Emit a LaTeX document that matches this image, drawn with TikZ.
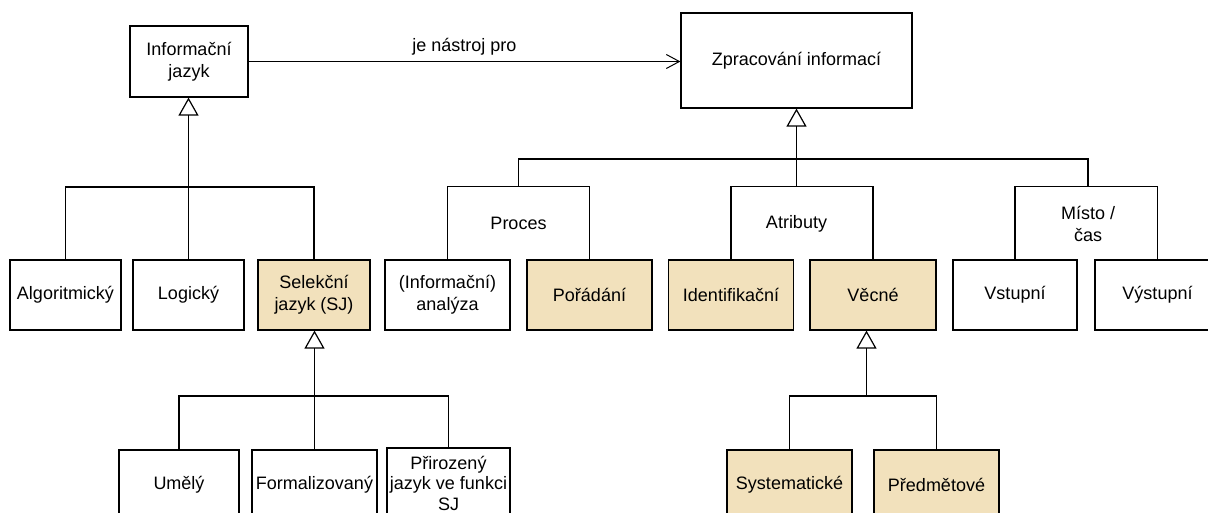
\documentclass[tikz,border=0pt]{standalone}
\usepackage{fontspec}
\setmainfont{Liberation Sans}
\usepackage{xcolor}
\usetikzlibrary{arrows.meta, positioning}
\definecolor{beige}{HTML}{F2E1BC}
\tikzstyle{assoc} = [line width=1.2pt, -{Straight Barb[length=13pt,width=14pt,line width=1pt]}]
\tikzstyle{gen} = [line width=1.2pt, -{Triangle[open,length=18pt,width=20pt,line width=1.2pt]}]
\tikzstyle{block} = [rectangle, draw, line width=1.2pt, minimum width=125pt, minimum height=70pt, inner sep=1pt, align=center]
\tikzstyle{group} = [rectangle, minimum width=139pt, minimum height=73pt, inner sep=1pt, align=center]
\tikzset{every node/.style={font=\fontsize{18}{22}\selectfont}}

\begin{document}
\begin{tikzpicture}[x=1pt, y=-1pt, line width=1.2pt]
    \useasboundingbox (0,0) rectangle (1208,513);
    \clip (0,0) rectangle (1208,513);

    % top classes
    \node (info) [block, minimum width=118pt, minimum height=71pt] at (189,61.5) {Informační\\jazyk};
    \node (zprac) [block, minimum width=231pt, minimum height=95pt] at (796.5,60.5) {Zpracování informací};
    \draw [assoc] (info.east) -- node[yshift=15pt]{je nástroj pro} (info.east -| zprac.west);

    % informacni jazyk
    \node (alg) [block, minimum width=111pt] at (65.5,295) {Algoritmický};
    \node (log) [block, minimum width=111pt] at (188.5,295) {Logický};
    \node (sel) [block, fill=beige, minimum width=112pt] at (314,295) {Selekční\\jazyk (SJ)};
    \coordinate (jbar) at (188.5,187);
    \draw [gen] (jbar) -- (jbar |- info.south);
    \draw (alg.north) |- (jbar) -| (sel.north);
    \draw (log.north) -- (log.north |- jbar);

    % selekcni jazyk
    \node (umel) [block, minimum width=120pt] at (179,485) {Umělý};
    \node (form) [block] at (314.5,485) {Formalizovaný};
    \node (prir) [block, minimum width=123pt, font=\fontsize{18}{20.5}\selectfont] at (448.5,483) {Přirozený\\jazyk ve funkci\\SJ};
    \coordinate (sbar) at (314.5,396);
    \draw [gen] (sbar) -- (sbar |- sel.south);
    \draw (umel.north) |- (sbar) -| (prir.north);
    \draw (form.north) -- (form.north |- sbar);

    % zpracovani informaci
    \node (proc) [group] at (518.5,223.5) {Proces};
    \node (atr) [group] at (796.5,223.5) {Atributy};
    \node (mist) [group] at (1088,223.5) {Místo /\\čas};
    \coordinate (zbar) at (796.5,159);
    \draw [gen] (zbar) -- (zprac.south);
    \draw (proc.north) |- (zbar) -| (mist.north);
    \draw (atr.north) -- (zbar);

    \node (ana) [block] at (447.5,295) {(Informační)\\analýza};
    \node (pora) [block, fill=beige] at (589.5,295) {Pořádání};
    \node (iden) [block, fill=beige] at (731,295) {Identifikační};
    \node (vecne) [block, fill=beige, minimum width=126pt] at (873,295) {Věcné};
    \node (vstup) [block, minimum width=124pt] at (1015,295) {Vstupní};
    \node (vystup) [block] at (1157.5,295) {Výstupní};
    \draw (ana.north) |- (proc.north) -| (pora.north);
    \draw (iden.north) |- (atr.north) -| (vecne.north);
    \draw (vstup.north) |- (mist.north) -| (vystup.north);

    % vecne
    \node (syst) [block, fill=beige] at (789.5,485) {Systematické};
    \node (pred) [block, fill=beige] at (936.5,485) {Předmětové};
    \coordinate (vbar) at (866.5,396);
    \draw [gen] (vbar) -- (vbar |- vecne.south);
    \draw (syst.north) |- (vbar) -| (pred.north);
\end{tikzpicture}
\end{document}
